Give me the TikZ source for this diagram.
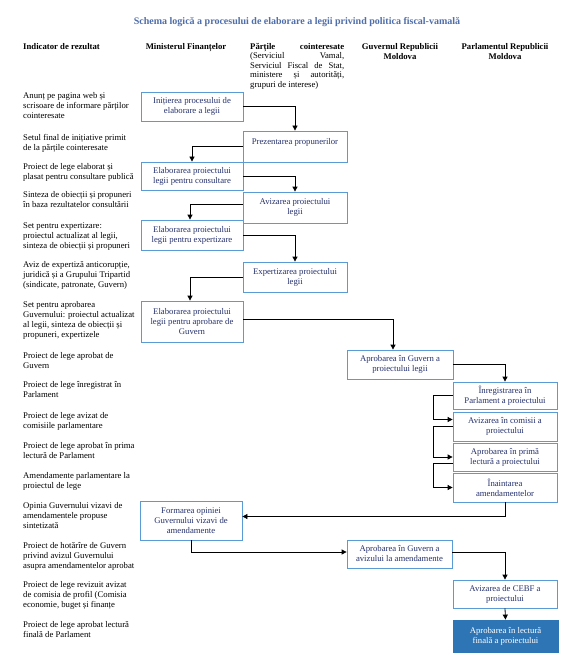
\documentclass[tikz,border=0pt]{standalone}
\usepackage{fontspec}
\setmainfont{Liberation Serif}
\usetikzlibrary{arrows.meta}
\definecolor{boxblue}{RGB}{91,155,213}
\definecolor{boxtext}{RGB}{38,50,110}
\definecolor{titleblue}{RGB}{79,110,170}
\definecolor{finalfill}{RGB}{46,117,182}
\tikzset{
  bx/.style={draw=boxblue, line width=0.8pt, text=boxtext, font=\fontsize{8.7}{10}\selectfont, align=center, inner sep=0pt},
  finalbx/.style={bx, fill=finalfill, draw=finalfill, text=white},
  ind/.style={anchor=north west, inner sep=0pt, align=left, font=\fontsize{8.7}{10}\selectfont},
  hdr/.style={anchor=north, inner sep=0pt, align=center, font=\bfseries\fontsize{8.7}{10}\selectfont},
  arr/.style={line width=0.8pt, -{Triangle[length=5pt,width=5pt]}},
}
\begin{document}
\begin{tikzpicture}[x=1pt,y=-1pt]
\fill[white] (0,0) rectangle (576,671);
\useasboundingbox (0,0) rectangle (576,671);

% title
\node[anchor=base, inner sep=0pt, text=titleblue, font=\bfseries\fontsize{10}{12}\selectfont] (title) at (297,24.5)
  {Schema logică a procesului de elaborare a legii privind politica fiscal-vamală};

% headers
\node[hdr, anchor=north west, align=left] (h1) at (23,42) {\strut Indicator de rezultat};
\node[hdr] (h2) at (186,42) {\strut Ministerul Finanțelor};
\node[anchor=north west, inner sep=0pt, align=left, font=\fontsize{8.7}{9.5}\selectfont] (h3) at (250,42.5)
  {\strut\hbox to 94pt{\bfseries Părțile\hfill cointeresate}\\
   \hbox to 94pt{(Serviciul\hfill Vamal,}\\
   \hbox to 94pt{Serviciul\hfill Fiscal\hfill de\hfill Stat,}\\
   \hbox to 94pt{ministere\hfill și\hfill autorități,}\\
   grupuri de interese)};
\node[hdr] (h4) at (400,42) {\strut Guvernul Republicii\\Moldova};
\node[hdr] (h5) at (505,42) {\strut Parlamentul Republicii\\Moldova};

% indicator column
\node[ind] (i1) at (23,91) {\strut Anunț pe pagina web și\\scrisoare de informare părților\\cointeresate};
\node[ind] (i2) at (23,133) {\strut Setul final de inițiative primit\\de la părțile cointeresate};
\node[ind] (i3) at (23,162) {\strut Proiect de lege elaborat și\\plasat pentru consultare publică};
\node[ind] (i4) at (23,190) {\strut Sinteza de obiecții și propuneri\\în baza rezultatelor consultării};
\node[ind] (i5) at (23,221) {\strut Set pentru expertizare:\\proiectul actualizat al legii,\\sinteza de obiecții și propuneri};
\node[ind] (i6) at (23,260) {\strut Aviz de expertiză anticorupție,\\juridică și a Grupului Tripartid\\(sindicate, patronate, Guvern)};
\node[ind] (i7) at (23,300) {\strut Set pentru aprobarea\\Guvernului: proiectul actualizat\\al legii, sinteza de obiecții și\\propuneri, expertizele};
\node[ind] (i8) at (23,351) {\strut Proiect de lege aprobat de\\Guvern};
\node[ind] (i9) at (23,380) {\strut Proiect de lege înregistrat în\\Parlament};
\node[ind] (i10) at (23,411) {\strut Proiect de lege avizat de\\comisiile parlamentare};
\node[ind] (i11) at (23,441) {\strut Proiect de lege aprobat în prima\\lectură de Parlament};
\node[ind] (i12) at (23,471) {\strut Amendamente parlamentare la\\proiectul de lege};
\node[ind] (i13) at (23,501) {\strut Opinia Guvernului vizavi de\\amendamentele propuse\\sintetizată};
\node[ind] (i14) at (23,541) {\strut Proiect de hotărîre de Guvern\\privind avizul Guvernului\\asupra amendamentelor aprobat};
\node[ind] (i15) at (23,580) {\strut Proiect de lege revizuit avizat\\de comisia de profil (Comisia\\economie, buget și finanțe};
\node[ind] (i16) at (23,620) {\strut Proiect de lege aprobat lectură\\finală de Parlament};

% process boxes
\node[bx, minimum width=102, minimum height=29] (b1) at (192,106.5) {Inițierea procesului de\\elaborare a legii};
\node[bx, minimum width=104, minimum height=31] (b2) at (295,146.5) {Prezentarea propunerilor\\\mbox{}};
\node[bx, minimum width=102, minimum height=28] (b3) at (192,176) {Elaborarea proiectului\\legii pentru consultare};
\node[bx, minimum width=104, minimum height=31] (b4) at (295,207.5) {Avizarea proiectului\\legii};
\node[bx, minimum width=102, minimum height=30] (b5) at (192,235) {Elaborarea proiectului\\legii pentru expertizare};
\node[bx, minimum width=104, minimum height=30] (b6) at (295,277) {Expertizarea proiectului\\legii};
\node[bx, minimum width=102, minimum height=41] (b7) at (192,321.5) {Elaborarea proiectului\\legii pentru aprobare de\\Guvern};
\node[bx, minimum width=106, minimum height=29] (b8) at (400,364.5) {Aprobarea în Guvern a\\proiectului legii};
\node[bx, minimum width=104, minimum height=27] (b9) at (505,395.5) {Înregistrarea în\\Parlament a proiectului};
\node[bx, minimum width=104, minimum height=29] (b10) at (505,426.5) {Avizarea în comisii a\\proiectului};
\node[bx, minimum width=104, minimum height=28] (b11) at (505,457) {Aprobarea în primă\\lectură a proiectului};
\node[bx, minimum width=104, minimum height=29] (b12) at (505,487.5) {Înaintarea\\amendamentelor};
\node[bx, minimum width=102, minimum height=39] (b13) at (191,520.5) {Formarea opiniei\\Guvernului vizavi de\\amendamente};
\node[bx, minimum width=105, minimum height=28] (b14) at (399.5,554) {Aprobarea în Guvern a\\avizului la amendamente};
\node[bx, minimum width=104, minimum height=28] (b15) at (505,594) {Avizarea de CEBF a\\proiectului};
\node[finalbx, minimum width=105, minimum height=32] (b16) at (505.5,636) {Aprobarea în lectură\\finală a proiectului};

% connectors
\draw[arr] (b1.east) -| (b2.north);
\draw[arr] (b2.west) -| (b3.north);
\draw[arr] (b3.east) -| (b4.north);
\draw[arr] ([yshift=3pt]b4.west) -| ([xshift=-2pt]b5.north);
\draw[arr] (b5.east) -| (b6.north);
\draw[arr] (b6.west) -| ([xshift=-2pt]b7.north);
\draw[arr] ([yshift=2pt]b7.east) -| ([xshift=-7pt]b8.north);
\draw[arr] (b8.east) -| (b9.north);
\draw[arr] (b9.west) -- ++(-19,0) |- ([yshift=7pt]b10.west);
\draw[arr] (b10.west) -- ++(-19,0) |- (b11.west);
\draw[arr] ([yshift=-6pt]b11.west) -- ++(-19,0) |- (b12.west);
\draw[arr] (b12.south) |- ([yshift=4pt]b13.east);
\draw[arr] (b13.south) |- ([yshift=2pt]b14.west);
\draw[arr] ([yshift=2pt]b14.east) -| (b15.north);
\draw[arr] (b15.south) -- (b16.north);
\end{tikzpicture}
\end{document}
